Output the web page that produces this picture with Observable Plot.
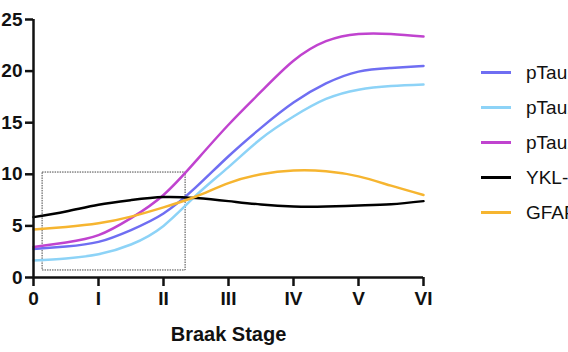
<!DOCTYPE html>
<html>
<head>
<meta charset="utf-8">
<script src="https://cdn.jsdelivr.net/npm/d3@7"></script>
<script src="https://cdn.jsdelivr.net/npm/@observablehq/plot@0.6"></script>
<style>
  html, body { margin: 0; padding: 0; overflow: hidden; background: #fff; }
  #wrap { position: relative; width: 568px; height: 352px; overflow: hidden; font-family: "Liberation Sans", Arial, sans-serif; }
  #legend { position: absolute; left: 481px; top: 55px; }
  .row { height: 35px; display: flex; align-items: center; white-space: nowrap; }
  .sw { width: 30px; height: 3px; margin-right: 15px; }
  .lab { font-size: 19px; color: #111; }
</style>
</head>
<body>
<div id="wrap"></div>
<script>
const stages = [0, 0.5, 1, 1.5, 2, 2.5, 3, 3.5, 4, 4.5, 5, 5.5, 6];
const stageTicks = [0, 1, 2, 3, 4, 5, 6];
const stageLabels = ["0", "I", "II", "III", "IV", "V", "VI"];
const yTicks = [0, 5, 10, 15, 20, 25];

const seriesNames = ["pTau181", "pTau217", "pTau231", "YKL-40", "GFAP"];
const seriesColors = ["#6f6ef2", "#8dd3f7", "#c043cf", "#000000", "#f6b530"];

const pTau181 = [2.75, 3.0, 3.45, 4.6, 6.2, 8.75, 11.75, 14.5, 16.95, 18.8, 19.95, 20.3, 20.5];
const pTau217 = [1.65, 1.85, 2.25, 3.2, 5.0, 7.95, 10.7, 13.45, 15.6, 17.3, 18.2, 18.55, 18.7];
const pTau231 = [2.95, 3.4, 4.1, 5.75, 8.0, 11.3, 14.8, 18.0, 21.0, 22.9, 23.6, 23.6, 23.35];
const YKL40  = [5.85, 6.4, 7.05, 7.5, 7.8, 7.7, 7.4, 7.07, 6.88, 6.88, 6.98, 7.1, 7.4];
const GFAP   = [4.65, 4.9, 5.25, 5.9, 6.8, 7.85, 9.15, 10.0, 10.37, 10.3, 9.8, 8.9, 8.0];

const zoomBox = [{x1: 0.14, x2: 2.34, y1: 0.68, y2: 10.17}];
const xTitle = "Braak Stage";

const allSeries = [pTau181, pTau217, pTau231, YKL40, GFAP];
const rows = [];
allSeries.forEach((vals, i) => vals.forEach((v, j) => rows.push({stage: stages[j], value: v, series: seriesNames[i]})));

const font = "'Liberation Sans', Arial, sans-serif";

const chart = Plot.plot({
  width: 568,
  height: 352,
  marginTop: 19,
  marginBottom: 75,
  marginLeft: 33,
  marginRight: 145,
  style: {fontFamily: font, fontSize: "19px", fontWeight: "bold", color: "#111", background: "#fff", overflow: "hidden"},
  x: {domain: [0, 6]},
  y: {domain: [0, 25]},
  color: {domain: seriesNames, range: seriesColors},
  marks: [
    Plot.rect(zoomBox, {x1: "x1", x2: "x2", y1: "y1", y2: "y2", fill: "none", stroke: "#444", strokeWidth: 1, strokeDasharray: "1.5 1"}),
    Plot.line(rows, {x: "stage", y: "value", z: "series", stroke: "series", strokeWidth: 2.5, curve: "natural"}),
    Plot.axisX({ticks: stageTicks, tickFormat: d => stageLabels[d], tickSize: 9, tickPadding: 5, strokeWidth: 2.5, stroke: "#111", label: null, fontWeight: "bold", fontSize: 19}),
    Plot.axisY({ticks: yTicks, tickSize: 8, tickPadding: 3, strokeWidth: 2.5, stroke: "#111", label: null, fontWeight: "bold", fontSize: 19}),
    Plot.ruleX([0], {stroke: "#111", strokeWidth: 2.5}),
    Plot.ruleY([0], {stroke: "#111", strokeWidth: 2.5}),
    Plot.text([xTitle], {frameAnchor: "bottom", dy: 63, fontWeight: "bold", fontSize: 20, fill: "#111"})
  ]
});

const wrap = document.getElementById("wrap");
wrap.appendChild(chart);

const legend = document.createElement("div");
legend.id = "legend";
seriesNames.forEach((name, i) => {
  const row = document.createElement("div");
  row.className = "row";
  const sw = document.createElement("div");
  sw.className = "sw";
  sw.style.background = seriesColors[i];
  const lab = document.createElement("span");
  lab.className = "lab";
  lab.textContent = name;
  row.appendChild(sw);
  row.appendChild(lab);
  legend.appendChild(row);
});
wrap.appendChild(legend);
</script>
</body>
</html>
